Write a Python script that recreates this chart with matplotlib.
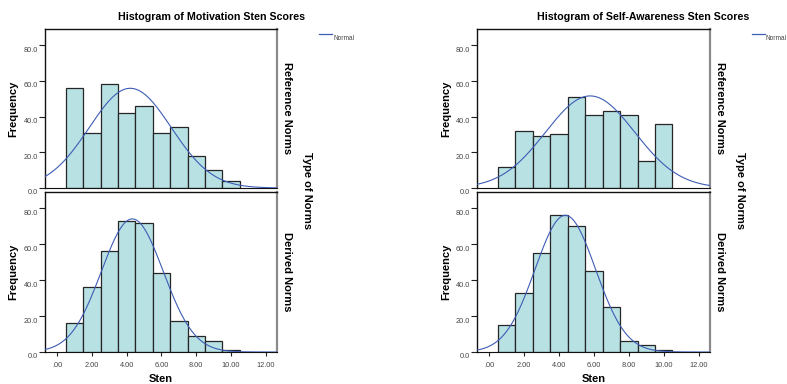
import numpy as np
import matplotlib
matplotlib.use("Agg")
import matplotlib.pyplot as plt
from matplotlib.transforms import ScaledTranslation

plt.rcParams['font.family'] = ['Liberation Sans', 'DejaVu Sans']

# Data
sten = np.arange(1, 11)
motivation_reference = [56, 31, 58, 42, 46, 31, 34, 18, 10, 4]
motivation_derived = [16, 36, 56, 73, 72, 44, 17, 9, 6, 1]
selfaware_reference = [12, 32, 29, 30, 51, 41, 43, 41, 15, 36]
selfaware_derived = [15, 33, 55, 76, 70, 45, 25, 6, 4, 1]

titles = ["Histogram of Motivation Sten Scores", "Histogram of Self-Awareness Sten Scores"]
row_labels = ["Reference Norms", "Derived Norms"]
xticks = [0, 2, 4, 6, 8, 10, 12]
xticklabels = [".00", "2.00", "4.00", "6.00", "8.00", "10.00", "12.00"]
yticks = [0, 20, 40, 60, 80]
yticklabels = ["0.0", "20.0", "40.0", "60.0", "80.0"]

W, H = 787, 384
fig = plt.figure(figsize=(W / 100, H / 100), dpi=100)

bar_color = '#b8e1e4'
edge_color = '#262626'
curve_color = '#3d5cb5'
tick_color = '#444444'

def px_axes(x0, y0, x1, y1):
    return fig.add_axes([x0 / W, 1 - y1 / H, (x1 - x0) / W, (y1 - y0) / H])

def draw(ax, counts, show_x, x0, x1, flab_x):
    counts = np.asarray(counts, dtype=float)
    ax.bar(sten, counts, width=1.0, color=bar_color, edgecolor=edge_color, linewidth=0.9, zorder=2)
    n = counts.sum()
    mu = (sten * counts).sum() / n
    sd = np.sqrt((counts * (sten - mu) ** 2).sum() / (n - 1))
    xs = np.linspace(-0.7, 12.65, 300)
    ys = n * 1.0 / (sd * np.sqrt(2 * np.pi)) * np.exp(-0.5 * ((xs - mu) / sd) ** 2)
    ax.plot(xs, ys, color=curve_color, lw=0.8, zorder=3)
    ax.set_xlim(-0.7, 12.65)
    ax.set_ylim(0, 89)
    ax.set_yticks(yticks)
    ax.set_yticklabels(yticklabels)
    ax.tick_params(axis='y', direction='out', length=4, width=0.8, color='#222222',
                   labelsize=5.3, labelcolor=tick_color, pad=1)
    for lab in ax.get_yticklabels():
        lab.set_transform(lab.get_transform() + ScaledTranslation(0, -4 / 100, fig.dpi_scale_trans))
    if show_x:
        ax.set_xticks(xticks)
        ax.set_xticklabels(xticklabels)
        ax.tick_params(axis='x', direction='out', length=3, width=0.8, color='#222222',
                       labelsize=5.3, labelcolor=tick_color, pad=4)
        ax.set_xlabel("Sten", fontsize=8, fontweight='bold', labelpad=4)
    else:
        ax.set_xticks([])
    for s in ['left', 'top']:
        ax.spines[s].set_color('#111111')
        ax.spines[s].set_linewidth(1.0)
    ax.spines['bottom'].set_color('#111111')
    ax.spines['bottom'].set_linewidth(0.8)
    ax.spines['right'].set_color('#8a8a8a')
    ax.spines['right'].set_linewidth(1.6)
    ax.set_ylabel("Frequency", fontsize=8, fontweight='bold')
    ax.yaxis.set_label_coords((flab_x - x0) / (x1 - x0), 0.5)

panels = [
    (45, 277, [motivation_reference, motivation_derived], titles[0], 18),
    (477, 710, [selfaware_reference, selfaware_derived], titles[1], 451),
]

for x0, x1, data, title, flx in panels:
    ax_top = px_axes(x0, 29, x1, 188)
    ax_bot = px_axes(x0, 192, x1, 352)
    draw(ax_top, data[0], False, x0, x1, flx)
    draw(ax_bot, data[1], True, x0, x1, flx)
    fig.text((x0 + 166) / W, 1 - 17 / H, title, ha='center', va='center',
             fontsize=7.7, fontweight='bold')
    # Row labels
    fig.text((x1 + 10) / W, 1 - 108 / H, row_labels[0], rotation=-90, ha='center', va='center',
             fontsize=8, fontweight='bold')
    fig.text((x1 + 10) / W, 1 - 272 / H, row_labels[1], rotation=-90, ha='center', va='center',
             fontsize=8, fontweight='bold')
    fig.text((x1 + 30) / W, 1 - 191 / H, "Type of Norms", rotation=-90, ha='center', va='center',
             fontsize=8, fontweight='bold')
    # Legend
    lx = x1 + 42
    fig.add_artist(plt.Line2D([lx / W, (lx + 13) / W], [1 - 34 / H, 1 - 34 / H],
                              color=curve_color, lw=0.9))
    fig.text((lx + 14) / W, 1 - 38 / H, "Normal", ha='left', va='center', fontsize=4.7,
             color='#444444')

fig.savefig("out.png", dpi=100)
